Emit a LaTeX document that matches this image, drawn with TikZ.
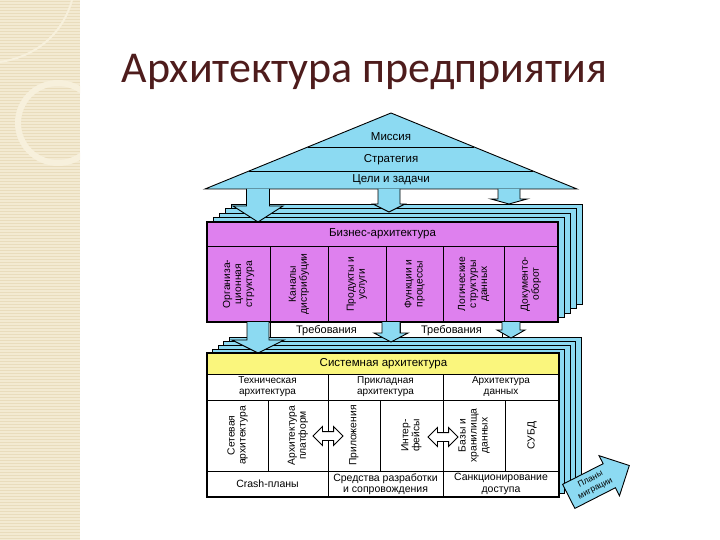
\documentclass[tikz,border=0pt]{standalone}
\usepackage{fontspec}
\setmainfont{Liberation Sans}
\newfontfamily\titlefont{Carlito}
\usetikzlibrary{calc,shapes.arrows}

\definecolor{skyfill}{RGB}{140,218,242}
\definecolor{bizpink}{RGB}{222,128,238}
\definecolor{sysyellow}{RGB}{250,246,125}
\definecolor{paper}{RGB}{243,234,210}
\definecolor{paperline}{RGB}{233,220,188}
\definecolor{paperring}{RGB}{247,240,220}
\definecolor{titlered}{RGB}{78,28,28}

% block arrow pointing down: x, top, neck, tip, half shaft, half head
\newcommand\blockdown[6]{%
  \filldraw[blockarrow] (#1-#5,#2) -- (#1-#5,#3) -- (#1-#6,#3) -- (#1,#4)
    -- (#1+#6,#3) -- (#1+#5,#3) -- (#1+#5,#2);}

\begin{document}
\begin{tikzpicture}[x=1pt,y=-1pt,line width=0.9pt,
    sheet/.style={draw=black,fill=skyfill},
    blockarrow/.style={draw=black,fill=skyfill,line join=miter},
    cell/.style={draw=black,inner sep=1pt,align=center,font=\fontsize{10}{11}\selectfont},
    vcell/.style={cell,rotate=90,font=\fontsize{10.3}{11}\selectfont},
    head/.style={font=\fontsize{11.5}{13}\selectfont},
    dblarrow/.style={double arrow,draw=black,fill=white,inner xsep=0pt,inner ysep=4pt,
      minimum height=30,double arrow head extend=5pt}]
    \useasboundingbox (0,0) rectangle (720,540);

    % left paper stripe
    \fill[paper] (0,0) rectangle (80,540);
    \foreach \y in {1,4,...,540}
        {\draw[paperline,line width=0.6pt] (0,\y) -- (80,\y);}
    \begin{scope}
        \clip (0,0) rectangle (80,540);
        \draw[paperring,line width=6pt] (58,123) circle (40);
        \draw[paperring,line width=2pt] (0,62) .. controls (40,56) and (64,30) .. (72,0);
    \end{scope}

    \node[anchor=base west,text=titlered,font=\titlefont\fontsize{44}{50}\selectfont]
        (title) at (118,83) {Архитектура предприятия};

    % roof
    \coordinate (apex) at (391,113);
    \coordinate (roofL) at (205,189);
    \coordinate (roofR) at (577,189);
    \filldraw[sheet] (roofL) -- (apex) -- (roofR) -- cycle;
    \draw ($(apex)!0.447!(roofL)$) -- ($(apex)!0.447!(roofR)$);
    \draw ($(apex)!0.763!(roofL)$) -- ($(apex)!0.763!(roofR)$);
    \node[head] (mission) at (391,137) {Миссия};
    \node[head] (strategy) at (391,160) {Стратегия};
    \node[head] (goals) at (391,180) {Цели и задачи};

    % business architecture
    \foreach \k in {4,3,2,1}
        {\filldraw[sheet] (207+6*\k,222-4.5*\k) rectangle (558+6*\k,322-4.5*\k);}
    \blockdown{258}{189}{206}{222}{11.5}{25}
    \blockdown{389}{189}{204}{212}{11}{16}
    \blockdown{509}{189}{199}{204}{11}{18}
    \node[draw,fill=bizpink,minimum width=351,minimum height=100,inner sep=0pt,
        anchor=north west] (biz) at (207,222) {};
    \node[head] (bizhead) at (382.5,234) {Бизнес-архитектура};
    \draw (207,246) -- (558,246);
    \foreach \cx/\w/\txt [count=\i] in {238.5/63/{Организа-\\ционная\\структура},
            299/58/{Каналы\\дистрибуции}, 357/58/{Продукты и\\услуги},
            414.5/57/{Функции и\\процессы}, 473.5/61/{Логические\\структуры\\данных},
            531/54/{Документо-\\оборот}}
        {\node[vcell,minimum width=76,minimum height=\w] (bc\i) at (\cx,284) {\txt};}
    \draw[line width=1.2pt] (207,222) rectangle (558,322);

    \node[cell,fill=white,font=\fontsize{11}{12}\selectfont,minimum width=112,minimum height=17,
        anchor=north west] (req1) at (270,322) {Требования};
    \node[cell,fill=white,font=\fontsize{11}{12}\selectfont,minimum width=102,minimum height=17,
        anchor=north west] (req2) at (400,322) {Требования};

    % system architecture
    \foreach \k in {4,3,2,1}
        {\filldraw[sheet] (207+5.5*\k,353-4*\k) rectangle (559+5.5*\k,497-4*\k);}
    \blockdown{258}{322}{340}{353}{11}{26}
    \blockdown{391}{322}{333}{342}{9}{17}
    \blockdown{511}{322}{330}{338}{9}{14}
    \node[draw,fill=white,minimum width=352,minimum height=144,inner sep=0pt,
        anchor=north west] (sys) at (207,353) {};
    \node[draw,fill=sysyellow,head,minimum width=352,minimum height=21,inner sep=0pt,
        anchor=north west] (syshead) at (207,353) {Системная архитектура};
    \foreach \cx/\w/\txt [count=\i] in {267.5/121/{Техническая\\архитектура},
            385.5/115/{Прикладная\\архитектура}, 501/116/{Архитектура\\данных}}
        {\node[cell,minimum width=\w,minimum height=26] (sa\i) at (\cx,387) {\txt};}
    \foreach \cx/\w/\txt [count=\i] in {237.5/61/{Сетевая\\архитектура},
            298/60/{Архитектура\\платформ}, 354/52/{Приложения},
            411.5/63/{Интер-\\фейсы}, 474/62/{Базы и\\хранилища\\данных},
            532/54/{СУБД}}
        {\node[vcell,minimum width=71,minimum height=\w] (sc\i) at (\cx,435.5) {\txt};}
    \foreach \cx/\w/\txt [count=\i] in {267.5/121/{Crash-планы},
            385.5/115/{Средства разработки\\и сопровождения},
            501/116/{Санкционирование\\доступа}}
        {\node[cell,font=\fontsize{10.5}{11.5}\selectfont,minimum width=\w,minimum height=26]
            (sb\i) at (\cx,484) {\txt};}
    \draw[line width=1.2pt] (207,353) rectangle (559,497);
    \node[dblarrow] (da1) at (328,436) {};
    \node[dblarrow] (da2) at (443,437) {};

    \node[single arrow,draw,fill=skyfill,rotate=27,align=center,inner xsep=2pt,inner ysep=4pt,
        font=\fontsize{8.5}{10.5}\selectfont,single arrow head extend=9pt,minimum height=68]
        (migr) at (593,484) {Планы\\миграции};
\end{tikzpicture}
\end{document}
